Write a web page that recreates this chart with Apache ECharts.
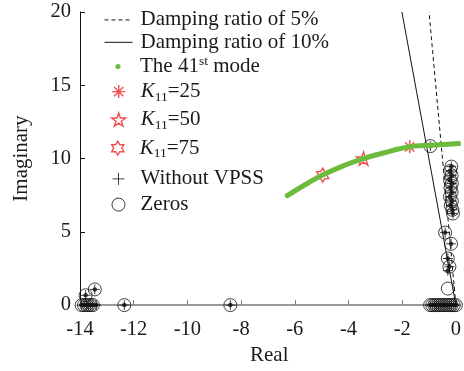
<!DOCTYPE html>
<html>
<head>
<meta charset="utf-8">
<script src="https://cdn.jsdelivr.net/npm/echarts@6/dist/echarts.min.js"></script>
<style>html,body{margin:0;padding:0;background:#fff}#c{width:464px;height:371px}</style>
</head>
<body>
<div id="c"></div>
<script>
// ---- data ----
const xTicks = [-14, -12, -10, -8, -6, -4, -2, 0];
const yTicks = [0, 5, 10, 15, 20];
const damp5Re = [0, -1.0];
const damp5Im = [0, 20];
const damp10Re = [0, -2.01];
const damp10Im = [0, 20];
const modeRe = [-6.28, -5.6, -4.96, -4.2, -3.44, -2.6, -1.72, -0.95, -0.3, 0.1];
const modeIm = [7.47, 8.23, 8.87, 9.5, 10.0, 10.43, 10.8, 10.91, 10.98, 11.02];
const k25 = [-1.72, 10.8];
const k50 = [-3.44, 10.0];
const k75 = [-4.96, 8.87];
const poleRe = [-13.94, -13.85, -13.76, -13.68, -13.6, -13.52, -13.4, -13.79, -13.45, -12.35, -8.4,
  -0.95, -0.17, -0.21, -0.16, -0.22, -0.15, -0.2, -0.16, -0.22, -0.15, -0.19, -0.13, -0.11,
  -0.4, -0.18, -0.3, -0.24, -0.3,
  -0.96, -0.88, -0.8, -0.72, -0.64, -0.56, -0.48, -0.4, -0.32, -0.24, -0.16, -0.08, 0];
const poleIm = [0, 0, 0, 0, 0, 0, 0, 0.67, 1.07, 0, 0,
  10.85, 9.45, 9.15, 8.85, 8.55, 8.3, 8.0, 7.7, 7.4, 7.1, 6.8, 6.5, 6.25,
  4.95, 4.18, 3.18, 2.62, 2.35,
  0, 0, 0, 0, 0, 0, 0, 0, 0, 0, 0, 0, 0];
const zeroRe = [-13.94, -13.85, -13.76, -13.68, -13.6, -13.52, -13.79, -13.45, -12.35, -8.4,
  -0.95, -0.17, -0.21, -0.16, -0.22, -0.15, -0.2, -0.16, -0.22, -0.15, -0.19, -0.13, -0.11,
  -0.4, -0.18, -0.3, -0.24, -0.3,
  -0.96, -0.88, -0.8, -0.72, -0.64, -0.56, -0.48, -0.4, -0.32, -0.24, -0.16, -0.08, 0];
const zeroIm = [0, 0, 0, 0, 0, 0, 0.67, 1.07, 0, 0,
  10.85, 9.45, 9.15, 8.85, 8.55, 8.3, 8.0, 7.7, 7.4, 7.1, 6.8, 6.5, 6.25,
  4.95, 4.18, 3.18, 2.62, 1.13,
  0, 0, 0, 0, 0, 0, 0, 0, 0, 0, 0, 0, 0];

const names = ['Damping ratio of 5%', 'Damping ratio of 10%', 'The 41st mode',
  'K11=25', 'K11=50', 'K11=75', 'Without VPSS', 'Zeros'];
const labelText = {
  'The 41st mode': 'The 41{sup|st} mode',
  'K11=25': '{it|K}{sub|11}=25',
  'K11=50': '{it|K}{sub|11}=50',
  'K11=75': '{it|K}{sub|11}=75'
};

const zip = (a, b) => a.map((v, i) => [v, b[i]]);
const FONT = 'Liberation Serif';
const TXT = '#1a1a1a';
const RED = '#ee2424';
const GREEN = '#6cbb3c';
const LFS = 21;

const PLUS = 'path://M0,-1L0,1M-1,0L1,0';
const AST = 'path://M0,-1L0,1M-1,0L1,0M-0.707,-0.707L0.707,0.707M-0.707,0.707L0.707,-0.707';
const STAR5 = 'path://M0,-1L0.2245,-0.309L0.951,-0.309L0.363,0.118L0.588,0.809L0,0.382L-0.588,0.809L-0.363,0.118L-0.951,-0.309L-0.2245,-0.309Z';
const HEX = 'path://M0,-1L0.2887,-0.5L0.866,-0.5L0.577,0L0.866,0.5L0.2887,0.5L0,1L-0.2887,0.5L-0.866,0.5L-0.577,0L-0.866,-0.5L-0.2887,-0.5Z';

// legend layout: [top, iconWidth, iconHeight]
const legendTop = [9.4, 31.8, 54.6, 81.1, 109.1, 137.7, 168.4, 194.1];
const legendIconW = [28, 28, 5, 13, 14, 14, 12, 13];
const legendIconH = [14, 14, 5, 13, 14, 14, 12, 13];
const ICON_CX = 118, TEXT_X = 140;

const legends = names.map((n, i) => {
  const w = legendIconW[i], h = legendIconH[i];
  const left = i < 2 ? 104 : ICON_CX - w / 2;
  const pad = TEXT_X - (left + w + 5);
  return {
    data: [i === 2 ? {name: n, icon: 'circle', itemStyle: {color: GREEN, borderWidth: 0}} : n],
    orient: 'vertical',
    left: left,
    top: legendTop[i],
    itemWidth: w,
    itemHeight: h,
    selectedMode: false,
    padding: 0,
    itemStyle: {borderWidth: i === 2 ? 0 : (i >= 3 && i <= 5 ? 1.4 : 1)},
    lineStyle: {width: 1},
    formatter: name => labelText[name] || name,
    textStyle: {
      fontFamily: FONT, fontSize: LFS, color: TXT, padding: [0, 0, 0, pad],
      rich: {
        it: {fontFamily: FONT, fontSize: LFS, fontStyle: 'italic', color: TXT},
        sub: {fontFamily: FONT, fontSize: 13.5, color: TXT, padding: [11, 0, 0, 0]},
        sup: {fontFamily: FONT, fontSize: 13.5, color: TXT, padding: [0, 0, 10, 0]}
      }
    }
  };
});

const chart = echarts.init(document.getElementById('c'), null, {renderer: 'canvas'});
chart.setOption({
  animation: false,
  backgroundColor: '#fff',
  grid: {left: 80, top: 12, right: 0.5, bottom: 59, containLabel: false},
  legend: legends,
  xAxis: {
    type: 'value', min: -14, max: 0.1,
    name: 'Real', nameLocation: 'middle', nameGap: 38,
    nameTextStyle: {fontFamily: FONT, fontSize: 21, color: TXT},
    axisLine: {show: true, onZero: false, lineStyle: {color: '#7a7a7a', width: 1.6}},
    axisTick: {show: true, inside: true, length: 5, customValues: xTicks, lineStyle: {color: '#7a7a7a', width: 1}},
    axisLabel: {customValues: xTicks, margin: 14, fontFamily: FONT, fontSize: 20.5, color: TXT},
    splitLine: {show: false}
  },
  yAxis: {
    type: 'value', min: 0, max: 20, interval: 5,
    name: 'Imaginary', nameLocation: 'middle', nameGap: 48,
    nameTextStyle: {fontFamily: FONT, fontSize: 21, color: TXT},
    axisLine: {show: true, onZero: false, lineStyle: {color: '#111', width: 1}},
    axisTick: {show: true, inside: true, length: 5, customValues: yTicks, lineStyle: {color: '#111', width: 1}},
    axisLabel: {customValues: yTicks, margin: 9, fontFamily: FONT, fontSize: 20.5, color: TXT},
    splitLine: {show: false}
  },
  series: [
    {name: names[0], type: 'line', data: zip(damp5Re, damp5Im), symbol: 'none', clip: false,
      lineStyle: {color: '#111', width: 1, type: [4, 3]}, itemStyle: {color: '#111', opacity: 0}},
    {name: names[1], type: 'line', data: zip(damp10Re, damp10Im), symbol: 'none', clip: false,
      lineStyle: {color: '#111', width: 1}, itemStyle: {color: '#111', opacity: 0}},
    {name: names[2], type: 'line', data: zip(modeRe, modeIm), symbol: 'none', smooth: 0.35, clip: false,
      lineStyle: {color: GREEN, width: 5, cap: 'round'}, itemStyle: {color: GREEN}},
    {name: names[7], type: 'scatter', data: zip(zeroRe, zeroIm), symbol: 'circle', symbolSize: 13, clip: false,
      itemStyle: {color: 'rgba(0,0,0,0)', borderColor: '#111', borderWidth: 1}},
    {name: names[6], type: 'scatter', data: zip(poleRe, poleIm), symbol: PLUS, symbolSize: 10, clip: false,
      itemStyle: {color: 'rgba(0,0,0,0)', borderColor: '#111', borderWidth: 1}},
    {name: 'poles', type: 'scatter', data: zip(poleRe, poleIm), symbol: 'circle', symbolSize: 4.5, clip: false,
      itemStyle: {color: '#111'}},
    {name: names[3], type: 'scatter', data: [k25], symbol: AST, symbolSize: 13, symbolKeepAspect: true, clip: false,
      itemStyle: {color: 'rgba(0,0,0,0)', borderColor: RED, borderWidth: 1.5}},
    {name: names[4], type: 'scatter', data: [k50], symbol: STAR5, symbolSize: 14, symbolKeepAspect: true, clip: false,
      itemStyle: {color: 'rgba(0,0,0,0)', borderColor: RED, borderWidth: 1.4}},
    {name: names[5], type: 'scatter', data: [k75], symbol: HEX, symbolSize: 14, symbolKeepAspect: true, clip: false,
      itemStyle: {color: 'rgba(0,0,0,0)', borderColor: RED, borderWidth: 1.4}}
  ]
});
</script>
</body>
</html>
